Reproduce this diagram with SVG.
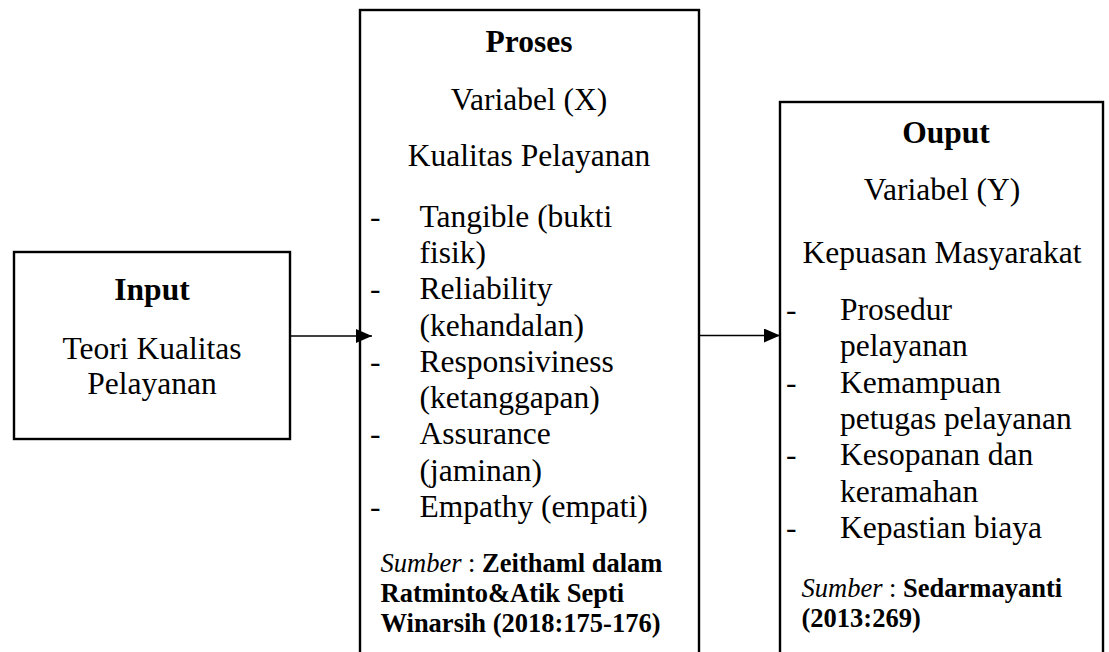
<svg xmlns="http://www.w3.org/2000/svg" width="1109" height="652" viewBox="0 0 1109 652">
  <style>
    .box { fill: #ffffff; stroke: #000000; stroke-width: 2.4; }
    .t { font-family: "Liberation Serif", "Times New Roman", serif; font-size: 31.5px; fill: #000000; }
    .b { font-weight: bold; }
    .c { text-anchor: middle; }
    .s { font-family: "Liberation Serif", "Times New Roman", serif; font-size: 26.5px; fill: #000000; }
    .i { font-style: italic; }
    .conn { stroke: #000000; stroke-width: 1.7; fill: none; }
  </style>
  <defs>
    <marker id="arrow" markerUnits="userSpaceOnUse" markerWidth="16" markerHeight="14" refX="16" refY="7" orient="auto">
      <path d="M0,0 L16,7 L0,14 Z" fill="#000000"/>
    </marker>
  </defs>
  <rect width="1109" height="652" fill="#ffffff"/>

  <g id="node-input">
    <rect class="box" x="14" y="252" width="276" height="187"/>
    <text class="t b c" x="152" y="300">Input</text>
    <text class="t c" x="152" y="359">Teori Kualitas</text>
    <text class="t c" x="152" y="394">Pelayanan</text>
  </g>

  <g id="node-proses">
    <rect class="box" x="360" y="10" width="339" height="660"/>
    <text class="t b c" x="529" y="52">Proses</text>
    <text class="t c" x="529" y="110">Variabel (X)</text>
    <text class="t c" x="529" y="166">Kualitas Pelayanan</text>
    <text class="t" x="370" y="226.6">-</text>
    <text class="t" x="419.5" y="226.6">Tangible (bukti</text>
    <text class="t" x="419.5" y="262.9">fisik)</text>
    <text class="t" x="370" y="299.2">-</text>
    <text class="t" x="419.5" y="299.2">Reliability</text>
    <text class="t" x="419.5" y="335.5">(kehandalan)</text>
    <text class="t" x="370" y="371.8">-</text>
    <text class="t" x="419.5" y="371.8">Responsiviness</text>
    <text class="t" x="419.5" y="408.1">(ketanggapan)</text>
    <text class="t" x="370" y="444.4">-</text>
    <text class="t" x="419.5" y="444.4">Assurance</text>
    <text class="t" x="419.5" y="480.7">(jaminan)</text>
    <text class="t" x="370" y="517">-</text>
    <text class="t" x="419.5" y="517">Empathy (empati)</text>
    <text class="s" x="380.5" y="572"><tspan class="i">Sumber</tspan> : <tspan class="b">Zeithaml dalam</tspan></text>
    <text class="s b" x="380.5" y="602">Ratminto&amp;Atik Septi</text>
    <text class="s b" x="380.5" y="632">Winarsih (2018:175-176)</text>
  </g>

  <g id="node-output">
    <rect class="box" x="780" y="102" width="323" height="570"/>
    <text class="t b c" x="946" y="143">Ouput</text>
    <text class="t c" x="942" y="200">Variabel (Y)</text>
    <text class="t c" x="942" y="263">Kepuasan Masyarakat</text>
    <text class="t" x="786" y="320">-</text>
    <text class="t" x="840" y="320">Prosedur</text>
    <text class="t" x="840" y="356.3">pelayanan</text>
    <text class="t" x="786" y="392.6">-</text>
    <text class="t" x="840" y="392.6">Kemampuan</text>
    <text class="t" x="840" y="428.9">petugas pelayanan</text>
    <text class="t" x="786" y="465.2">-</text>
    <text class="t" x="840" y="465.2">Kesopanan dan</text>
    <text class="t" x="840" y="501.5">keramahan</text>
    <text class="t" x="786" y="537.8">-</text>
    <text class="t" x="840" y="537.8">Kepastian biaya</text>
    <text class="s" x="801.5" y="597"><tspan class="i">Sumber</tspan> : <tspan class="b">Sedarmayanti</tspan></text>
    <text class="s b" x="801.5" y="627">(2013:269)</text>
  </g>

  <g id="connectors">
    <line class="conn" x1="290" y1="336" x2="372" y2="336" marker-end="url(#arrow)"/>
    <line class="conn" x1="699" y1="335.5" x2="780" y2="335.5" marker-end="url(#arrow)"/>
  </g>
</svg>
